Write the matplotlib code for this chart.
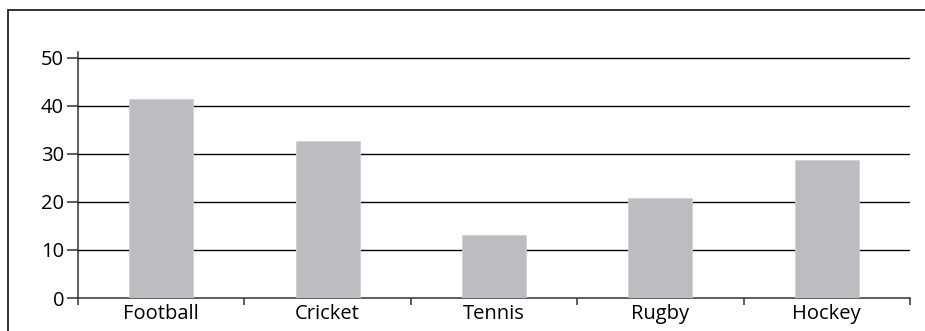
import matplotlib
matplotlib.use("Agg")
import numpy as np
from matplotlib import pyplot as plt
from matplotlib.patches import Rectangle

sports = ["Football", "Cricket", "Tennis", "Rugby", "Hockey"]
counts = [41.5, 32.6, 13.2, 20.8, 28.8]
y_ticks = [0, 10, 20, 30, 40, 50]
y_labels = ["0", "10", "20", "30", "40", "50"]

plt.rcParams['font.family'] = ['Open Sans', 'DejaVu Sans']

fig = plt.figure(figsize=(9.25, 3.31), dpi=100)
ax = fig.add_axes([78 / 925, 33 / 331, 832 / 925, 246 / 331])

x = np.arange(len(sports))
ax.bar(x, counts, width=0.385, color="#bcbdc0", edgecolor="#cfd0d2",
       linewidth=0.6, zorder=3)

# horizontal rules behind the bars
for t in y_ticks[1:]:
    ax.axhline(t, color="black", linewidth=1.0, zorder=1)

ax.set_xlim(-0.5, len(sports) - 0.5)
ax.set_ylim(0, 51.2)
ax.set_yticks(y_ticks)
ax.set_yticklabels(y_labels, fontsize=14.5)

# ticks sit on the category boundaries, labels in the middle
ax.set_xticks(np.arange(len(sports) + 1) - 0.5)
ax.set_xticklabels([])
ax.set_xticks(x, minor=True)
ax.set_xticklabels(sports, minor=True, fontsize=14.5)
ax.tick_params(axis="x", which="major", direction="out", length=5,
               width=1.1, color="#333333")
ax.tick_params(axis="x", which="minor", length=0, pad=4)
ax.tick_params(axis="y", direction="out", length=8, width=1.1,
               color="#333333", pad=2)

for side in ["top", "right"]:
    ax.spines[side].set_visible(False)
ax.spines["left"].set_color("#333333")
ax.spines["left"].set_linewidth(1.1)
ax.spines["bottom"].set_color("#333333")
ax.spines["bottom"].set_linewidth(1.1)

# outer frame running off the right and bottom edges
fig.patches.append(Rectangle((8 / 925, -0.2), 1.0, 1.2 - 9.5 / 331,
                             transform=fig.transFigure, fill=False,
                             edgecolor="#222222", linewidth=1.3))

fig.savefig("out.png", dpi=100)
